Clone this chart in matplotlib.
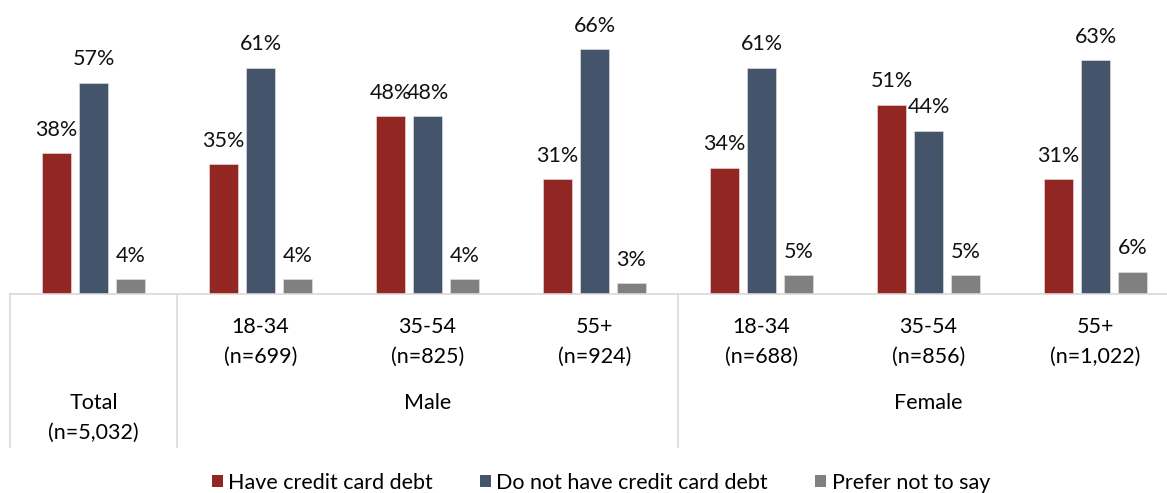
import matplotlib.pyplot as plt
from matplotlib.patches import Patch

plt.rcParams['font.family'] = ['Lato', 'DejaVu Sans']

# survey shares (%) per group
groups = ["Total", "M 18-34", "M 35-54", "M 55+", "F 18-34", "F 35-54", "F 55+"]
have_debt = [38, 35, 48, 31, 34, 51, 31]
no_debt = [57, 61, 48, 66, 61, 44, 63]
prefer_not = [4, 4, 4, 3, 5, 5, 6]

age_labels = ["", "18-34", "35-54", "55+", "18-34", "35-54", "55+"]
n_labels = ["", "(n=699)", "(n=825)", "(n=924)", "(n=688)", "(n=856)", "(n=1,022)"]
series_names = ["Have credit card debt", "Do not have credit card debt", "Prefer not to say"]
colors = ["#922622", "#44546A", "#808080"]

FS = 15.5

fig = plt.figure(figsize=(11.67, 4.93), dpi=100)
ax = fig.add_axes([10 / 1167, 199 / 493, 1157 / 1167, 294 / 493])

x = list(range(len(groups)))
w = 0.174
off = 0.2216
for k, vals in enumerate([have_debt, no_debt, prefer_not]):
    xs = [i + (k - 1) * off for i in x]
    ax.bar(xs, vals, width=w, color=colors[k], edgecolor="#e6e6e6", linewidth=0.4)
    for xi, v in zip(xs, vals):
        ax.annotate(f"{v}%", (xi, v), xytext=(0, 12.5), textcoords="offset points",
                    ha="center", va="baseline", fontsize=FS, color="#111111")

ax.set_xlim(-0.5, -0.5 + 1157 / 167)
ax.set_ylim(0, 294 / 3.71)
ax.set_xticks([])
ax.set_yticks([])
for s in ["left", "right", "top"]:
    ax.spines[s].set_visible(False)
ax.spines["bottom"].set_color("#d9d9d9")
ax.spines["bottom"].set_linewidth(1.2)

# helper: y in pixels from the top of the figure -> data units
def ypx(p):
    return (294 - p) / 3.71

# separators under the axis
for xb in [-0.5, 0.5, 3.5]:
    ax.plot([xb, xb], [0, ypx(447)], color="#d9d9d9", lw=1.2, clip_on=False)

for i in x:
    if age_labels[i]:
        ax.text(i, ypx(327), age_labels[i], ha="center", va="center", fontsize=FS)
        ax.text(i, ypx(357), n_labels[i], ha="center", va="center", fontsize=FS)

ax.text(0, ypx(403), "Total", ha="center", va="center", fontsize=FS)
ax.text(0, ypx(433), "(n=5,032)", ha="center", va="center", fontsize=FS)
ax.text(2, ypx(403), "Male", ha="center", va="center", fontsize=FS)
ax.text(5, ypx(403), "Female", ha="center", va="center", fontsize=FS)

handles = [Patch(facecolor=c, label=n) for c, n in zip(colors, series_names)]
fig.legend(handles=handles, loc="center", bbox_to_anchor=(601 / 1167, 1 - 483 / 493),
           ncol=3, frameon=False, fontsize=FS, handlelength=0.5, handleheight=0.5,
           handletextpad=0.25, columnspacing=2.2)

fig.savefig("out.png", dpi=100)
